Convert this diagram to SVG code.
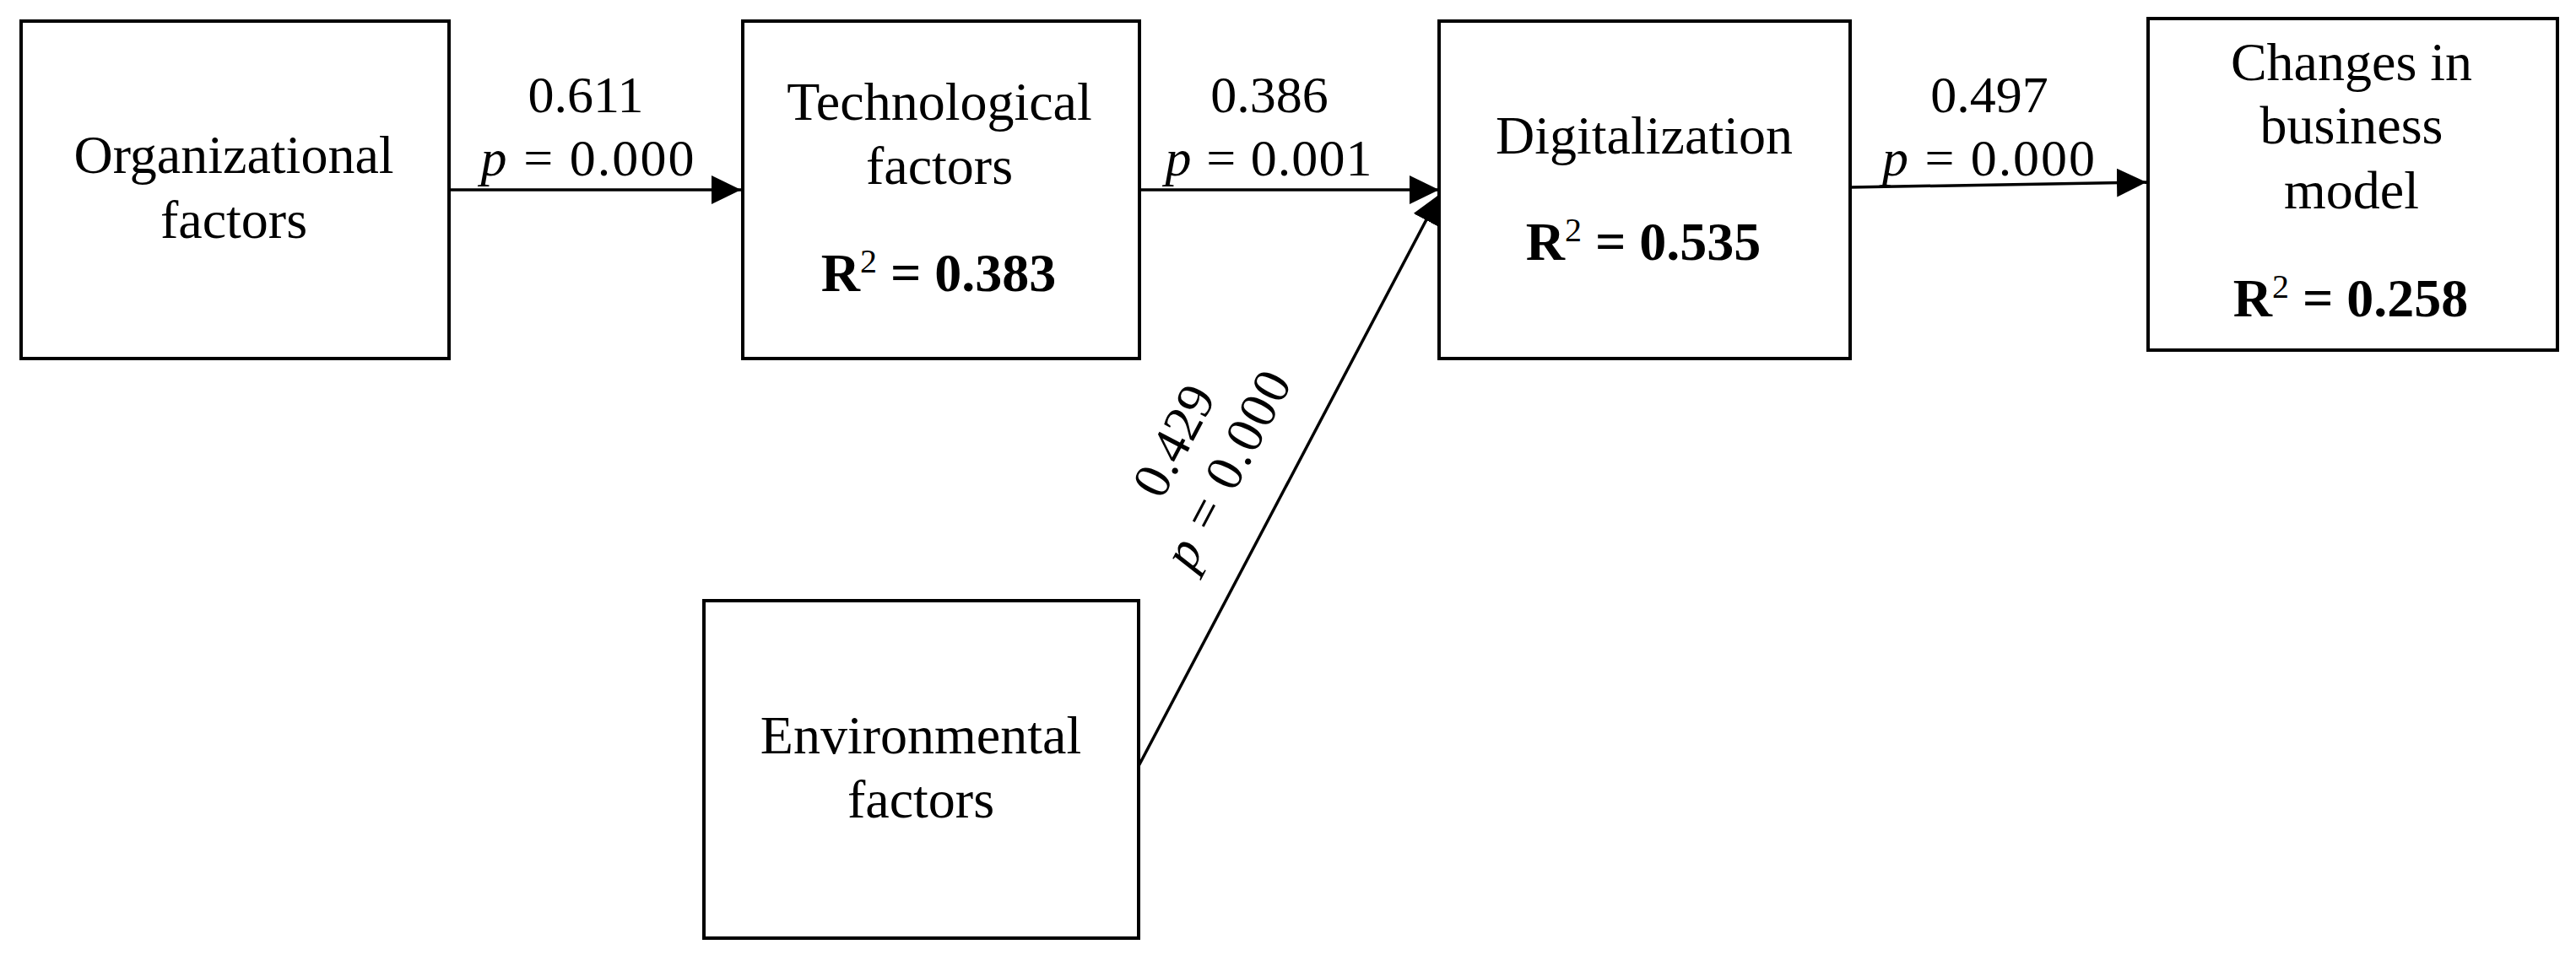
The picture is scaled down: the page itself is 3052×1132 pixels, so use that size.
<svg xmlns="http://www.w3.org/2000/svg" width="3052" height="1132" viewBox="0 0 3052 1132">
<style>
.box{fill:#fff;stroke:#000;stroke-width:4}
.t{font-family:"Liberation Serif","Times New Roman",serif;font-size:64px;fill:#000;text-anchor:middle}
.b{font-weight:bold}
.sup{font-size:40px;font-weight:normal}
.lbl{font-family:"Liberation Serif","Times New Roman",serif;font-size:62px;fill:#000;text-anchor:middle}
.i{font-style:italic}
.c{fill:none;stroke:#000;stroke-width:3.5}
</style>
<defs>
<marker id="ah" viewBox="0 0 35 34" refX="35" refY="17" markerWidth="35" markerHeight="34" markerUnits="userSpaceOnUse" orient="auto">
<path d="M0,0 L35,17 L0,34 z" fill="#000"/>
</marker>
</defs>
<rect width="3052" height="1132" fill="#fff"/>
<g id="connectors">
<line class="c" x1="532" y1="225" x2="878" y2="225" marker-end="url(#ah)"/>
<line class="c" x1="1350" y1="225" x2="1705" y2="225" marker-end="url(#ah)"/>
<line class="c" x1="2192" y1="222" x2="2543" y2="216" marker-end="url(#ah)"/>
<line class="c" x1="1349" y1="908" x2="1706" y2="230" marker-end="url(#ah)"/>
<text class="lbl" x="694" y="133">0.611</text>
<text class="lbl" x="696" y="208" textLength="253"><tspan class="i">p</tspan> = 0.000</text>
<text class="lbl" x="1504" y="133">0.386</text>
<text class="lbl" x="1503" y="208" textLength="245"><tspan class="i">p</tspan> = 0.001</text>
<text class="lbl" x="2357" y="133">0.497</text>
<text class="lbl" x="2356" y="208" textLength="252"><tspan class="i">p</tspan> = 0.000</text>
<text class="lbl" transform="translate(1409,532) rotate(-62.2)" x="0" y="0">0.429</text>
<text class="lbl" transform="translate(1472,566) rotate(-62.2)" x="0" y="0" textLength="255"><tspan class="i">p</tspan> = 0.000</text>
</g>
<g id="organizational">
<rect class="box" x="25" y="25" width="507" height="400"/>
<text class="t" x="277" y="205">Organizational</text>
<text class="t" x="277" y="282">factors</text>
</g>
<g id="technological">
<rect class="box" x="880" y="25" width="470" height="400"/>
<text class="t" x="1113" y="142">Technological</text>
<text class="t" x="1113" y="218">factors</text>
<text class="t b" x="1112" y="345">R<tspan class="sup" dy="-22">2</tspan><tspan dy="22"> = 0.383</tspan></text>
</g>
<g id="digitalization">
<rect class="box" x="1705" y="25" width="487" height="400"/>
<text class="t" x="1948" y="182">Digitalization</text>
<text class="t b" x="1947" y="308">R<tspan class="sup" dy="-22">2</tspan><tspan dy="22"> = 0.535</tspan></text>
</g>
<g id="changes">
<rect class="box" x="2545" y="22" width="485" height="393"/>
<text class="t" x="2786" y="95">Changes in</text>
<text class="t" x="2786" y="170">business</text>
<text class="t" x="2786" y="247">model</text>
<text class="t b" x="2785" y="375">R<tspan class="sup" dy="-22">2</tspan><tspan dy="22"> = 0.258</tspan></text>
</g>
<g id="environmental">
<rect class="box" x="834" y="712" width="515" height="400"/>
<text class="t" x="1091" y="893">Environmental</text>
<text class="t" x="1091" y="969">factors</text>
</g>
</svg>
